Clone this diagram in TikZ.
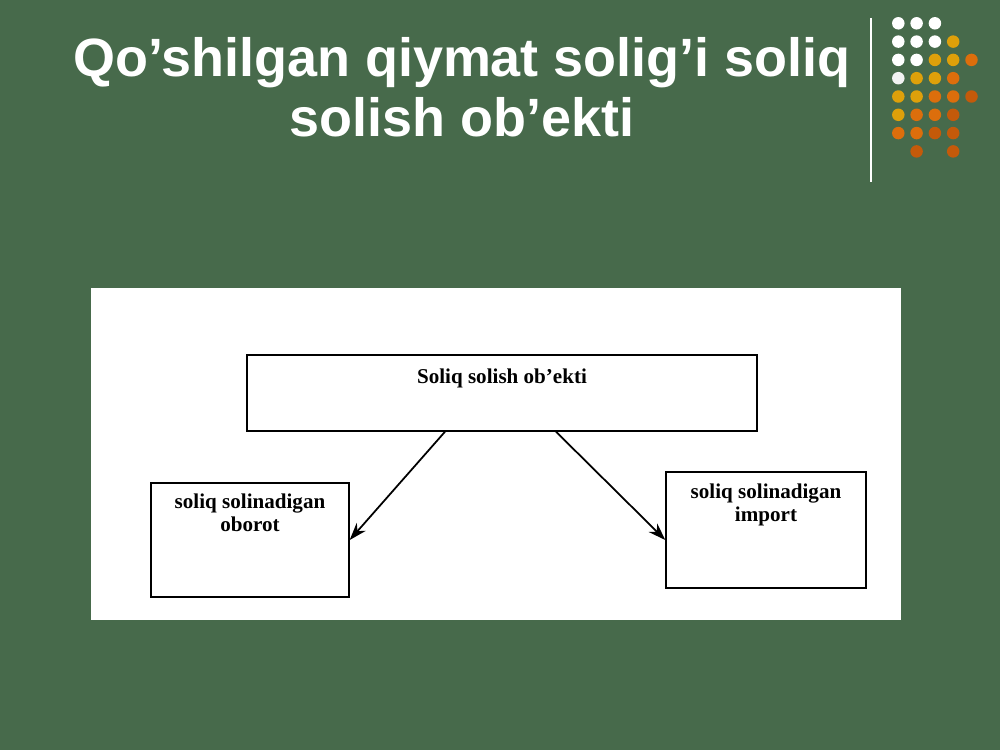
\documentclass[tikz,border=0pt]{standalone}
\usepackage{fontspec}
\usetikzlibrary{arrows.meta}
\setmainfont{Liberation Serif}
\newfontfamily\titlefont{Liberation Sans}
\definecolor{slidegreen}{RGB}{71,106,75}
\definecolor{dotgold}{RGB}{222,160,10}
\definecolor{dotorange}{RGB}{220,110,12}
\definecolor{dotbrown}{RGB}{196,90,10}
\tikzset{
  box/.style={rectangle,draw,thick,inner sep=0pt},
  lbl/.style={anchor=north,align=center,font=\bfseries\fontsize{12}{13.2}\selectfont},
  dot/.style={circle,inner sep=0pt,minimum size=0.25cm}
}
\begin{document}
\begin{tikzpicture}[x=0.02cm,y=-0.02cm]
\fill [slidegreen] (0,0) rectangle (1000,750);
\useasboundingbox (0,0) rectangle (1000,750);
\node (title) [align=center,text=white,font=\titlefont\bfseries\fontsize{30.7}{34}\selectfont] at (462,87) {Qo’shilgan qiymat solig’i soliq\\solish ob’ekti};
\draw [white,line width=1.2pt] (871,18) -- (871,182);
\foreach \c/\r/\col in {1/1/white,2/1/white,3/1/white,
  1/2/white,2/2/white,3/2/white,4/2/dotgold,
  1/3/white,2/3/white,3/3/dotgold,4/3/dotgold,5/3/dotorange,
  1/4/white!90!gray,2/4/dotgold,3/4/dotgold,4/4/dotorange,
  1/5/dotgold,2/5/dotgold,3/5/dotorange,4/5/dotorange,5/5/dotbrown,
  1/6/dotgold,2/6/dotorange,3/6/dotorange,4/6/dotbrown,
  1/7/dotorange,2/7/dotorange,3/7/dotbrown,4/7/dotbrown,
  2/8/dotbrown,4/8/dotbrown}
  \node [dot,fill=\col] at ({880+18.3*\c},{5+18.3*\r}) {};
\fill [white] (91,288) rectangle (901,620);
\node (obj) [box,minimum width=10.2cm,minimum height=1.52cm,label={[lbl,yshift=-0.17cm]north:Soliq solish ob’ekti}] at (502,393) {};
\node (turn) [box,minimum width=3.96cm,minimum height=2.28cm,label={[lbl,yshift=-0.1cm]north:soliq solinadigan\\oborot}] at (250,540) {};
\node (imp) [box,minimum width=4cm,minimum height=2.32cm,label={[lbl,yshift=-0.13cm]north:soliq solinadigan\\import}] at (766,530) {};
\draw [-{Stealth[length=3.5mm,width=2.4mm]},line width=1pt] (obj.south -| 445,0) -- (turn.east);
\draw [-{Stealth[length=3.5mm,width=2.4mm]},line width=1pt] (obj.south -| 556,0) -- (imp.west |- turn.east);
\end{tikzpicture}
\end{document}
